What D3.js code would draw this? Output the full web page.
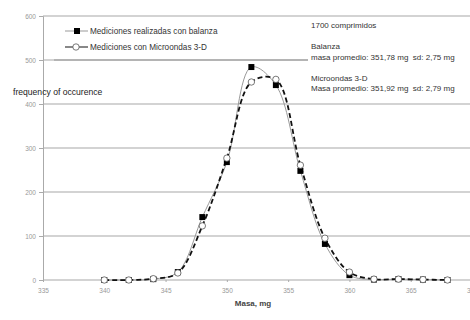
<!DOCTYPE html>
<html>
<head>
<meta charset="utf-8">
<script src="https://cdn.jsdelivr.net/npm/d3@7"></script>
<style>
  body { margin: 0; background: #fff; }
  text { font-family: "Liberation Sans", Arial, sans-serif; white-space: pre; }
</style>
</head>
<body>
<div id="chart"></div>
<script>
// data
var masa = [340, 342, 344, 346, 348, 350, 352, 354, 356, 358, 360, 362, 364, 366, 368];
var balanza = [0, 0, 2, 18, 143, 268, 484, 443, 248, 82, 11, 1, 2, 1, 0];
var microondas = [0, 0, 3, 16, 123, 277, 450, 456, 261, 95, 18, 2, 2, 1, 0];
var xTicks = [335, 340, 345, 350, 355, 360, 365, 370];
var yTicks = [0, 100, 200, 300, 400, 500, 600];
var infoLines = ["1700 comprimidos", "", "Balanza", "masa promedio: 351,78 mg  sd: 2,75 mg", "",
  "Microondas 3-D", "Masa promedio: 351,92 mg  sd: 2,79 mg"];

var width = 470, height = 320;

var svg = d3.select("#chart").append("svg")
    .attr("width", width)
    .attr("height", height);

var x = d3.scaleLinear().domain([335, 370]).range([43, 472]);
var y = d3.scaleLinear().domain([0, 600]).range([280, 16]);

//grid lines
svg.selectAll(".grid")
    .data(yTicks)
    .enter().append("line")
    .attr("x1", x(335)).attr("x2", width)
    .attr("y1", d => y(d)).attr("y2", d => y(d))
    .attr("stroke", "#c4c4c4")
    .attr("stroke-width", 1.3);

//white box behind the info text
svg.append("rect")
    .attr("x", 308).attr("y", y(600) + 1)
    .attr("width", width - 308).attr("height", y(400) - y(600) - 3)
    .attr("fill", "#fff");

//legend box bottom edge sits on the 500 line
svg.append("line")
    .attr("x1", 54).attr("x2", 308)
    .attr("y1", y(500)).attr("y2", y(500))
    .attr("stroke", "#b4b4b4")
    .attr("stroke-width", 2.2);

//axes
var yAxis = svg.append("g")
    .attr("transform", "translate(" + x(335) + ",0)")
    .call(d3.axisLeft(y).tickValues(yTicks).tickSize(4).tickPadding(3));
yAxis.select(".domain").attr("stroke", "#aaa");
yAxis.selectAll("line").attr("stroke", "#aaa");
yAxis.selectAll("text").attr("fill", "#999").style("font-size", "6.5px");

var xAxis = svg.append("g")
    .attr("transform", "translate(0," + y(0) + ")")
    .call(d3.axisBottom(x).tickValues(xTicks).tickSize(2).tickPadding(6));
xAxis.select(".domain").remove();
xAxis.selectAll("line").attr("stroke", "#aaa");
xAxis.selectAll("text").attr("fill", "#999").style("font-size", "6.5px");

//axis titles
svg.append("text")
    .attr("x", 253).attr("y", 306)
    .attr("text-anchor", "middle")
    .style("font-size", "8px")
    .style("font-weight", "bold")
    .attr("fill", "#444")
    .text("Masa, mg");

svg.append("text")
    .attr("x", 13).attr("y", 95)
    .style("font-size", "8.6px")
    .attr("fill", "#222")
    .text("frequency of occurence");

//lines
var lineB = d3.line()
    .x((d, i) => x(masa[i]))
    .y(d => y(d))
    .curve(d3.curveCatmullRom.alpha(0.5));

svg.append("path")
    .datum(balanza)
    .attr("d", lineB)
    .attr("fill", "none")
    .attr("stroke", "#999")
    .attr("stroke-width", 1);

svg.append("path")
    .datum(microondas)
    .attr("d", lineB)
    .attr("fill", "none")
    .attr("stroke", "#111")
    .attr("stroke-width", 1.8)
    .attr("stroke-dasharray", "5,3");

//markers
svg.selectAll(".sq")
    .data(balanza)
    .enter().append("rect")
    .attr("x", (d, i) => x(masa[i]) - 3)
    .attr("y", d => y(d) - 3)
    .attr("width", 6).attr("height", 6)
    .attr("fill", "#000");

svg.selectAll(".ci")
    .data(microondas)
    .enter().append("circle")
    .attr("cx", (d, i) => x(masa[i]))
    .attr("cy", d => y(d))
    .attr("r", 3.2)
    .attr("fill", "#fff")
    .attr("stroke", "#555")
    .attr("stroke-width", 0.8);

//legend
var legend = [
    { label: "Mediciones realizadas con balanza", shape: "square", y: 31 },
    { label: "Mediciones con Microondas 3-D", shape: "circle", y: 47 }
];
legend.forEach(l => {
    svg.append("line")
        .attr("x1", 65).attr("x2", 88)
        .attr("y1", l.y).attr("y2", l.y)
        .attr("stroke", l.shape == "square" ? "#999" : "#555")
        .attr("stroke-width", l.shape == "square" ? 1 : 1.4);
    if (l.shape == "square") {
        svg.append("rect")
            .attr("x", 74).attr("y", l.y - 3)
            .attr("width", 6).attr("height", 6)
            .attr("fill", "#000");
    } else {
        svg.append("circle")
            .attr("cx", 76).attr("cy", l.y).attr("r", 3.2)
            .attr("fill", "#fff").attr("stroke", "#555").attr("stroke-width", 0.8);
    }
    svg.append("text")
        .attr("x", 90).attr("y", l.y + 3)
        .style("font-size", "8.2px")
        .attr("fill", "#333")
        .text(l.label);
});

//info text at the right
svg.selectAll(".info")
    .data(infoLines)
    .enter().append("text")
    .attr("x", 311)
    .attr("y", (d, i) => 28 + i * 10.5)
    .style("font-size", "8px")
    .attr("fill", "#333")
    .text(d => d);
</script>
</body>
</html>
